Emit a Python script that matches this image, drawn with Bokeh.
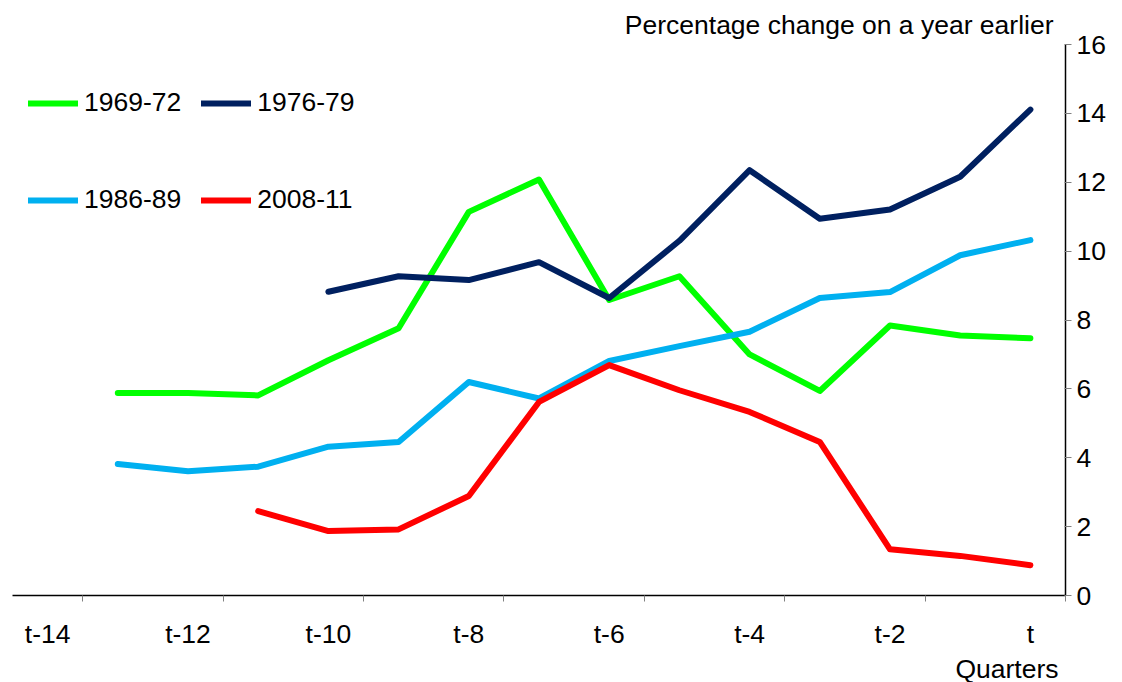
from bokeh.plotting import figure
from bokeh.models import FixedTicker, Legend, LegendItem, Title, Range1d
from bokeh.embed import file_html
from bokeh.resources import INLINE

quarters = ["t-14", "t-13", "t-12", "t-11", "t-10", "t-9", "t-8", "t-7",
            "t-6", "t-5", "t-4", "t-3", "t-2", "t-1", "t"]
s1969_72 = [None, 5.88, 5.88, 5.81, 6.83, 7.76, 11.14, 12.08, 8.58, 9.27, 7.00, 5.94, 7.84, 7.55, 7.47]
s1976_79 = [None, None, None, None, 8.82, 9.27, 9.16, 9.68, 8.64, 10.30, 12.35, 10.94, 11.21, 12.16, 14.11]
s1986_89 = [None, 3.82, 3.61, 3.74, 4.32, 4.46, 6.20, 5.72, 6.81, 7.24, 7.66, 8.64, 8.81, 9.88, 10.32]
s2008_11 = [None, None, None, 2.45, 1.87, 1.92, 2.89, 5.62, 6.69, 5.96, 5.33, 4.46, 1.34, 1.15, 0.88]
y_ticks = [0, 2, 4, 6, 8, 10, 12, 14, 16]

FONT = "Liberation Sans"
FS = "26.5px"
xpos = [i - (len(quarters) - 1) for i in range(len(quarters))]

p = figure(frame_width=1053, frame_height=551, output_backend="svg",
           toolbar_location=None, x_axis_location="below", y_axis_location="right",
           x_range=Range1d(xpos[0] - 0.5, xpos[-1] + 0.5),
           y_range=Range1d(y_ticks[0], y_ticks[-1]),
           min_border_left=12, min_border_top=44, min_border_right=10, min_border_bottom=0)
p.outline_line_color = None
p.xgrid.visible = False
p.ygrid.visible = False
p.background_fill_color = "white"
p.border_fill_color = "white"

p.title.text = "Percentage change on a year earlier"
p.title.align = "right"
p.title.offset = 12
p.title.standoff = 10
p.title.text_font = FONT
p.title.text_font_size = FS
p.title.text_font_style = "normal"
p.title.text_color = "black"

# x axis
label_ticks = [xpos[i] for i in range(0, len(quarters), 2)]
bound_ticks = [xpos[i] + 0.5 for i in range(0, len(quarters), 2)]
xa = p.xaxis[0]
xa.ticker = FixedTicker(ticks=label_ticks, minor_ticks=bound_ticks)
xa.major_label_overrides = {xpos[i]: quarters[i] for i in range(0, len(quarters), 2)}
xa.major_tick_line_color = None
xa.major_tick_out = 0
xa.major_tick_in = 0
xa.minor_tick_out = 6
xa.minor_tick_in = 0
xa.minor_tick_line_color = "#808080"
xa.axis_line_color = "black"
xa.axis_line_width = 1.5
xa.major_label_standoff = 17
xa.major_label_text_font = FONT
xa.major_label_text_font_size = FS
xa.major_label_text_color = "black"

# y axis
ya = p.yaxis[0]
ya.ticker = FixedTicker(ticks=y_ticks)
ya.major_tick_out = 6
ya.major_tick_in = 1
ya.minor_tick_line_color = None
ya.major_tick_line_color = "#808080"
ya.axis_line_color = "black"
ya.axis_line_width = 1.5
ya.major_label_standoff = 5
ya.major_label_text_font = FONT
ya.major_label_text_font_size = FS
ya.major_label_text_color = "black"

series = [("1969-72", s1969_72, "#00FF00"),
          ("1976-79", s1976_79, "#002060"),
          ("1986-89", s1986_89, "#00B0F0"),
          ("2008-11", s2008_11, "#FF0000")]
rends = []
for name, vals, col in series:
    xs = [x for x, v in zip(xpos, vals) if v is not None]
    ys = [v for v in vals if v is not None]
    r = p.line(xs, ys, line_color=col, line_width=6, line_cap="round", line_join="round")
    rends.append((name, r))

def mk_legend(items, loc):
    lg = Legend(items=[LegendItem(label=n, renderers=[r]) for n, r in items],
                location=loc, orientation="horizontal",
                glyph_width=50, glyph_height=30, label_height=30,
                label_standoff=6, spacing=20, padding=0, margin=0,
                border_line_color=None, background_fill_alpha=0,
                label_text_font=FONT, label_text_font_size=FS,
                label_text_color="black")
    return lg

p.add_layout(mk_legend(rends[0:2], (16, 477)), "center")
p.add_layout(mk_legend(rends[2:4], (16, 380)), "center")

qt = Title(text="Quarters", align="right", offset=7, standoff=0,
           text_font=FONT, text_font_size=FS, text_font_style="normal",
           text_color="black")
p.add_layout(qt, "below")

open("out.html", "w").write(file_html(p, INLINE))
